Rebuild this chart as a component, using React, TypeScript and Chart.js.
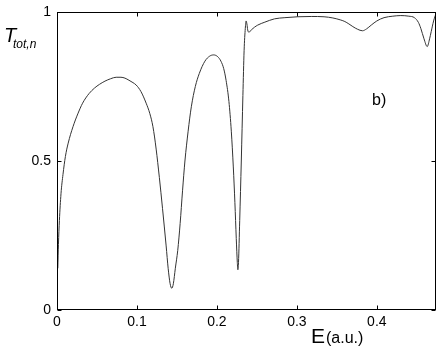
import React, { useEffect, useRef } from "react";
import { Chart, registerables } from "chart.js";

Chart.register(...registerables);

const energies = [
  0.001, 0.0018, 0.003, 0.005, 0.0075, 0.0105, 0.014, 0.02, 0.026, 0.032, 0.04, 0.047,
  0.053, 0.06, 0.067, 0.074, 0.08, 0.085, 0.09, 0.095, 0.099, 0.105, 0.1115, 0.116, 0.12, 0.124,
  0.128, 0.132, 0.1365, 0.139, 0.1415, 0.1435, 0.1455, 0.148, 0.151, 0.154, 0.157, 0.16, 0.164,
  0.168, 0.173, 0.178, 0.185, 0.191, 0.196, 0.201, 0.205, 0.2085, 0.2115, 0.215, 0.218, 0.2205,
  0.2225, 0.2242, 0.2255, 0.2262, 0.227, 0.2285, 0.2305, 0.2325, 0.234, 0.2355, 0.2365, 0.2375,
  0.2385, 0.24, 0.243, 0.247, 0.251, 0.26, 0.272, 0.285, 0.301, 0.318, 0.334, 0.345, 0.355, 0.36,
  0.365, 0.37, 0.376, 0.382, 0.387, 0.393, 0.4, 0.409, 0.42, 0.43, 0.44, 0.447, 0.452, 0.455,
  0.459, 0.463, 0.466, 0.468, 0.471, 0.474,
];
const transmission = [
  0.14, 0.22, 0.3, 0.39, 0.455, 0.515, 0.56, 0.615, 0.658, 0.694, 0.726, 0.745,
  0.757, 0.768, 0.776, 0.781, 0.781, 0.778, 0.771, 0.763, 0.755, 0.733, 0.694, 0.66, 0.615, 0.54,
  0.445, 0.34, 0.215, 0.14, 0.088, 0.073, 0.088, 0.14, 0.2, 0.29, 0.4, 0.5, 0.6,
  0.682, 0.75, 0.794, 0.835, 0.852, 0.856, 0.85, 0.835, 0.81, 0.77, 0.7, 0.6, 0.48,
  0.36, 0.24, 0.16, 0.135, 0.16, 0.3, 0.5, 0.72, 0.87, 0.945, 0.97, 0.96,
  0.94, 0.932, 0.94, 0.949, 0.956, 0.966, 0.977, 0.981, 0.984, 0.985, 0.984, 0.98, 0.973, 0.968,
  0.96, 0.951, 0.942, 0.937, 0.943, 0.956, 0.97, 0.981, 0.986, 0.988, 0.986, 0.981, 0.965, 0.945,
  0.91, 0.884, 0.91, 0.934, 0.97, 0.995,
];
const xTicks = [0, 0.1, 0.2, 0.3, 0.4];
const yTicks = [0, 0.5, 1];
const xMax = 0.474;

const FONT = "'Liberation Sans', Arial, Helvetica, sans-serif";

const framePlugin = {
  id: "frame",
  afterDraw(chart: any) {
    const { ctx, chartArea } = chart;
    const { left, right, top, bottom } = chartArea;
    const xs = chart.scales.x;
    const ys = chart.scales.y;
    ctx.save();
    ctx.strokeStyle = "#000";
    ctx.lineWidth = 1;
    const L = Math.round(left) + 0.5;
    const R = Math.round(right) - 0.5;
    const T = Math.round(top) + 0.5;
    const B = Math.round(bottom) - 0.5;
    ctx.strokeRect(L, T, R - L, B - T);
    const tl = 4;
    ctx.beginPath();
    for (const v of xTicks) {
      const px = Math.round(xs.getPixelForValue(v)) + 0.5;
      ctx.moveTo(px, B);
      ctx.lineTo(px, B - tl);
      ctx.moveTo(px, T);
      ctx.lineTo(px, T + tl);
    }
    for (const v of yTicks) {
      const py = Math.round(ys.getPixelForValue(v)) + 0.5;
      ctx.moveTo(L, py);
      ctx.lineTo(L + tl, py);
      ctx.moveTo(R, py);
      ctx.lineTo(R - tl, py);
    }
    ctx.stroke();

    ctx.fillStyle = "#000";
    ctx.textBaseline = "alphabetic";
    ctx.textAlign = "left";
    ctx.font = `italic 20px ${FONT}`;
    ctx.fillText("T", 4, 42);
    ctx.font = `italic 12px ${FONT}`;
    ctx.fillText("tot,n", 13, 48);

    ctx.font = `21px ${FONT}`;
    ctx.fillText("E", 311, 343);
    ctx.font = `16px ${FONT}`;
    ctx.fillText("(a.u.)", 326, 343);

    ctx.font = `16px ${FONT}`;
    ctx.fillText("b)", 372, 105);
    ctx.restore();
  },
};

export default function App() {
  const ref = useRef<HTMLCanvasElement | null>(null);
  useEffect(() => {
    if (!ref.current) return;
    const data = energies.map((e, i) => ({ x: e, y: transmission[i] }));
    const chart = new Chart(ref.current, {
      type: "line",
      data: {
        datasets: [
          {
            data,
            borderColor: "#333",
            borderWidth: 1,
            pointRadius: 0,
            cubicInterpolationMode: "monotone",
            fill: false,
          },
        ],
      },
      options: {
        animation: false,
        responsive: false,
        maintainAspectRatio: false,
        layout: { padding: { top: 12, right: 4, left: 0, bottom: 0 } },
        plugins: { legend: { display: false }, tooltip: { enabled: false } },
        scales: {
          x: {
            type: "linear",
            min: 0,
            max: xMax,
            afterBuildTicks: (s: any) => {
              s.ticks = xTicks.map((v) => ({ value: v }));
            },
            ticks: {
              color: "#000",
              font: { family: FONT, size: 14 },
              padding: 4,
              maxRotation: 0,
              autoSkip: false,
              callback: (v: any) => String(v),
            },
            grid: { display: false, drawTicks: false },
            border: { display: false },
            afterFit: (s: any) => {
              s.height = 41;
              s.paddingLeft = 0;
              s.paddingRight = 0;
            },
          },
          y: {
            type: "linear",
            min: 0,
            max: 1,
            afterBuildTicks: (s: any) => {
              s.ticks = yTicks.map((v) => ({ value: v }));
            },
            ticks: {
              color: "#000",
              font: { family: FONT, size: 14 },
              padding: 6,
              autoSkip: false,
              callback: (v: any) => String(v),
            },
            grid: { display: false, drawTicks: false },
            border: { display: false },
            afterFit: (s: any) => {
              s.width = 57;
              s.paddingTop = 0;
              s.paddingBottom = 0;
            },
          },
        },
      },
      plugins: [framePlugin],
    });
    return () => chart.destroy();
  }, []);
  return (
    <div style={{ position: "fixed", left: 0, top: 0, width: 440, height: 351, background: "#fff" }}>
      <canvas ref={ref} width={440} height={351} style={{ width: 440, height: 351 }} />
    </div>
  );
}
